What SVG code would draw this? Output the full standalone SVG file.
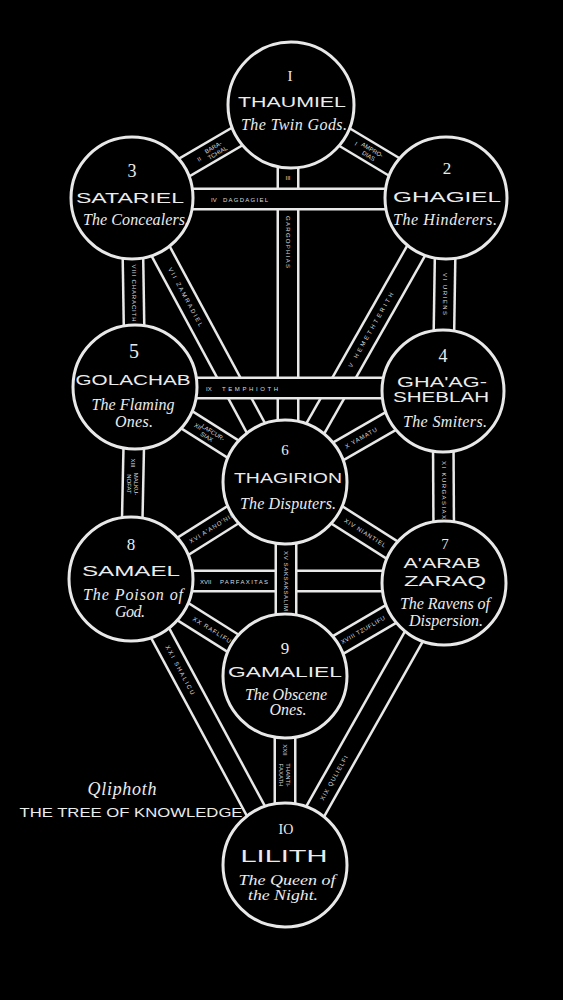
<svg xmlns="http://www.w3.org/2000/svg" width="563" height="1000" viewBox="0 0 563 1000">
<style>
.o{stroke:#e8e8e8;stroke-width:23;fill:none}
.i{stroke:#000;stroke-width:18;fill:none}
.node circle{fill:#000;stroke:#e8e8e8;stroke-width:3}
text{fill:#ececec;text-anchor:middle}
.num{font-family:"Liberation Serif",serif;font-size:17px}
.name{font-family:"Liberation Sans",sans-serif;font-size:15px}
.sub{font-family:"Liberation Serif",serif;font-style:italic;font-size:16px}
.pl{font-family:"Liberation Sans",sans-serif;font-size:6px;fill:#dcdcdc}
.st{text-anchor:start}
</style>
<rect width="563" height="1000" fill="#000"/>
<g id="connectors">
  <g id="p1-2"><line class="o" x1="291" y1="105" x2="446" y2="198"/><line class="i" x1="291" y1="105" x2="446" y2="198"/></g>
  <g id="p1-3"><line class="o" x1="291" y1="105" x2="132" y2="198"/><line class="i" x1="291" y1="105" x2="132" y2="198"/></g>
  <g id="p1-6"><line class="o" x1="288" y1="105" x2="288" y2="482"/><line class="i" x1="288" y1="105" x2="288" y2="482"/></g>
  <g id="p2-6"><line class="o" x1="446" y1="198" x2="285" y2="482"/><line class="i" x1="446" y1="198" x2="285" y2="482"/></g>
  <g id="p3-6"><line class="o" x1="132" y1="198" x2="285" y2="482"/><line class="i" x1="132" y1="198" x2="285" y2="482"/></g>
  <g id="p2-4"><line class="o" x1="446" y1="198" x2="443" y2="391"/><line class="i" x1="446" y1="198" x2="443" y2="391"/></g>
  <g id="p3-5"><line class="o" x1="132" y1="198" x2="135" y2="387"/><line class="i" x1="132" y1="198" x2="135" y2="387"/></g>
  <g id="p5-6"><line class="o" x1="135" y1="387" x2="285" y2="482"/><line class="i" x1="135" y1="387" x2="285" y2="482"/></g>
  <g id="p4-6"><line class="o" x1="443" y1="391" x2="285" y2="482"/><line class="i" x1="443" y1="391" x2="285" y2="482"/></g>
  <g id="p5-8"><line class="o" x1="135" y1="387" x2="131" y2="579"/><line class="i" x1="135" y1="387" x2="131" y2="579"/></g>
  <g id="p4-7"><line class="o" x1="443" y1="391" x2="444" y2="583"/><line class="i" x1="443" y1="391" x2="444" y2="583"/></g>
  <g id="p6-8"><line class="o" x1="285" y1="482" x2="131" y2="579"/><line class="i" x1="285" y1="482" x2="131" y2="579"/></g>
  <g id="p6-7"><line class="o" x1="285" y1="482" x2="444" y2="583"/><line class="i" x1="285" y1="482" x2="444" y2="583"/></g>
  <g id="p8-9"><line class="o" x1="131" y1="579" x2="285" y2="676"/><line class="i" x1="131" y1="579" x2="285" y2="676"/></g>
  <g id="p7-9"><line class="o" x1="444" y1="583" x2="285" y2="676"/><line class="i" x1="444" y1="583" x2="285" y2="676"/></g>
  <g id="p8-10"><line class="o" x1="131" y1="579" x2="285" y2="865"/><line class="i" x1="131" y1="579" x2="285" y2="865"/></g>
  <g id="p7-10"><line class="o" x1="444" y1="583" x2="285" y2="865"/><line class="i" x1="444" y1="583" x2="285" y2="865"/></g>
  <g id="p9-10"><line class="o" x1="285" y1="676" x2="285" y2="865"/><line class="i" x1="285" y1="676" x2="285" y2="865"/></g>
  <g id="p2-3"><line class="o" x1="132" y1="199" x2="446" y2="199"/><line class="i" x1="132" y1="199" x2="446" y2="199"/></g>
  <g id="p4-5"><line class="o" x1="135" y1="388" x2="443" y2="388"/><line class="i" x1="135" y1="388" x2="443" y2="388"/></g>
  <g id="p7-8"><line class="o" x1="131" y1="581" x2="444" y2="581"/><line class="i" x1="131" y1="581" x2="444" y2="581"/></g>
  <g id="p6-9"><line class="o" x1="286" y1="482" x2="286" y2="676"/><line class="i" x1="286" y1="482" x2="286" y2="676"/></g>

  <g transform="translate(368,151) rotate(31)"><text class="pl" x="-14" y="2">I</text><text class="pl" x="3" y="-1">AMPRO-</text><text class="pl" x="3" y="6">DIAS</text></g>
  <g transform="translate(213,151) rotate(-30.3)"><text class="pl" x="-16" y="2">II</text><text class="pl" x="2" y="-1">BARA-</text><text class="pl" x="3" y="6">TCHIAL</text></g>
  <text class="pl" x="288" y="180">III</text>
  <text class="pl st" x="211" y="201.5">IV</text>
  <text class="pl st" x="223" y="201.5" textLength="45">DAGDAGIEL</text>
  <g transform="translate(288,242) rotate(90)"><text class="pl" y="2" textLength="52">GARGOPHIAS</text></g>
  <g transform="translate(371,330) rotate(-60.5)"><text class="pl" y="2" textLength="85">V  HEMETHTERITH</text></g>
  <g transform="translate(444.5,294) rotate(90)"><text class="pl" y="2" textLength="42">VI URIENS</text></g>
  <g transform="translate(185.5,297) rotate(61.7)"><text class="pl" y="2" textLength="66">VII  ZAMRADIEL</text></g>
  <g transform="translate(133.5,293) rotate(90)"><text class="pl" y="2" textLength="57">VIII CHARACITH</text></g>
  <text class="pl st" x="206" y="391">IX</text>
  <text class="pl st" x="222" y="391" textLength="56">TEMPHIOTH</text>
  <g transform="translate(361,438) rotate(-30)"><text class="pl" y="2" textLength="36">X YAMATU</text></g>
  <g transform="translate(443.5,490) rotate(90)"><text class="pl" y="2" textLength="58">XI KURGASIAX</text></g>
  <g transform="translate(208,433) rotate(32.3)"><text class="pl" x="-12" y="2">XII</text><text class="pl" x="4" y="-1">LAFCUR-</text><text class="pl" x="1" y="6">SIAX</text></g>
  <g transform="translate(133,480) rotate(90)"><text class="pl" x="-17" y="2">XIII</text><text class="pl" x="4" y="-1">MALKU-</text><text class="pl" x="4" y="6">NOFAT</text></g>
  <g transform="translate(365,533) rotate(32.4)"><text class="pl" y="2" textLength="48">XIV NIANTIEL</text></g>
  <g transform="translate(286,581) rotate(90)"><text class="pl" y="2" textLength="60">XV SAKSAKSALIM</text></g>
  <g transform="translate(212,528) rotate(-32.2)"><text class="pl" y="2" textLength="52">XVI A'ANO'NIN</text></g>
  <text class="pl st" x="200" y="584">XVII</text>
  <text class="pl st" x="220" y="584" textLength="48">PARFAXITAS</text>
  <g transform="translate(363,630) rotate(-30.3)"><text class="pl" y="2" textLength="50">XVIII TZUFLIFU</text></g>
  <g transform="translate(334,778) rotate(-60.6)"><text class="pl" y="2" textLength="50">XIX QULIELFI</text></g>
  <g transform="translate(212,630) rotate(32.2)"><text class="pl" y="2" textLength="44">XX RAFLIFU</text></g>
  <g transform="translate(180,670) rotate(61.7)"><text class="pl" y="2" textLength="55">XXI SHALICU</text></g>
  <g transform="translate(285,772) rotate(90)"><text class="pl" x="-22" y="2">XXII</text><text class="pl" x="3" y="-1">THANTI-</text><text class="pl" x="3" y="6">FAXATH</text></g>
</g>

<g id="node1" class="node"><circle cx="291" cy="105" r="63"/>
  <text class="num" x="290" y="81" style="font-size:15px">I</text>
  <text class="name" x="292" y="107" textLength="108" lengthAdjust="spacingAndGlyphs">THAUMIEL</text>
  <text class="sub" x="294" y="130" textLength="106">The Twin Gods.</text></g>
<g id="node2" class="node"><circle cx="446" cy="198" r="61"/>
  <text class="num" x="447" y="174">2</text>
  <text class="name" x="447" y="202" textLength="108" lengthAdjust="spacingAndGlyphs">GHAGIEL</text>
  <text class="sub" x="445" y="225" textLength="104">The Hinderers.</text></g>
<g id="node3" class="node"><circle cx="132" cy="198" r="61"/>
  <text class="num" x="132" y="177" style="font-size:18px">3</text>
  <text class="name" x="130" y="203" textLength="108" lengthAdjust="spacingAndGlyphs">SATARIEL</text>
  <text class="sub" x="136" y="225" textLength="106">The Concealers.</text></g>
<g id="node4" class="node"><circle cx="443" cy="391" r="61"/>
  <text class="num" x="443" y="362" style="font-size:18px">4</text>
  <text class="name" x="442" y="387" textLength="90" lengthAdjust="spacingAndGlyphs">GHA'AG-</text>
  <text class="name" x="441" y="402" textLength="96" lengthAdjust="spacingAndGlyphs">SHEBLAH</text>
  <text class="sub" x="445" y="427" textLength="84">The Smiters.</text></g>
<g id="node5" class="node"><circle cx="135" cy="387" r="62"/>
  <text class="num" x="134" y="358" style="font-size:20px">5</text>
  <text class="name" x="133" y="385" textLength="115" lengthAdjust="spacingAndGlyphs">GOLACHAB</text>
  <text class="sub" x="133" y="410" textLength="83">The Flaming</text>
  <text class="sub" x="134" y="427" textLength="38">Ones.</text></g>
<g id="node6" class="node"><circle cx="285" cy="482" r="62"/>
  <text class="num" x="285" y="455" style="font-size:15px">6</text>
  <text class="name" x="288" y="483" textLength="108" lengthAdjust="spacingAndGlyphs">THAGIRION</text>
  <text class="sub" x="288" y="509" textLength="96">The Disputers.</text></g>
<g id="node7" class="node"><circle cx="444" cy="583" r="62"/>
  <text class="num" x="445" y="549" style="font-size:15px">7</text>
  <text class="name" x="442" y="568" textLength="77" lengthAdjust="spacingAndGlyphs">A'ARAB</text>
  <text class="name" x="445" y="586" textLength="82" lengthAdjust="spacingAndGlyphs">ZARAQ</text>
  <text class="sub" x="445" y="609" textLength="90">The Ravens of</text>
  <text class="sub" x="446" y="626" textLength="74">Dispersion.</text></g>
<g id="node8" class="node"><circle cx="131" cy="579" r="62"/>
  <text class="num" x="131" y="550">8</text>
  <text class="name" x="131" y="576" textLength="98" lengthAdjust="spacingAndGlyphs">SAMAEL</text>
  <text class="sub" x="133" y="600" textLength="100">The Poison of</text>
  <text class="sub" x="130" y="617" textLength="30">God.</text></g>
<g id="node9" class="node"><circle cx="285" cy="676" r="62"/>
  <text class="num" x="285" y="654">9</text>
  <text class="name" x="285" y="677" textLength="114" lengthAdjust="spacingAndGlyphs">GAMALIEL</text>
  <text class="sub" x="286" y="700" textLength="82">The Obscene</text>
  <text class="sub" x="288" y="715" textLength="37">Ones.</text></g>
<g id="node10" class="node"><circle cx="285" cy="865" r="62"/>
  <text class="num" x="286" y="834" style="font-size:14px">IO</text>
  <text class="name" x="284" y="862" style="font-size:16px" textLength="87" lengthAdjust="spacingAndGlyphs">LILITH</text>
  <text class="sub" x="287" y="885" style="font-size:15px" textLength="97" lengthAdjust="spacingAndGlyphs">The Queen of</text>
  <text class="sub" x="283" y="900" style="font-size:15px" textLength="70" lengthAdjust="spacingAndGlyphs">the Night.</text></g>

<g id="title">
  <text class="sub" x="122" y="795" style="font-size:18px" textLength="69">Qliphoth</text>
  <text class="name" x="131" y="817" style="font-size:13px" textLength="223" lengthAdjust="spacingAndGlyphs">THE TREE OF KNOWLEDGE</text>
</g>
</svg>
